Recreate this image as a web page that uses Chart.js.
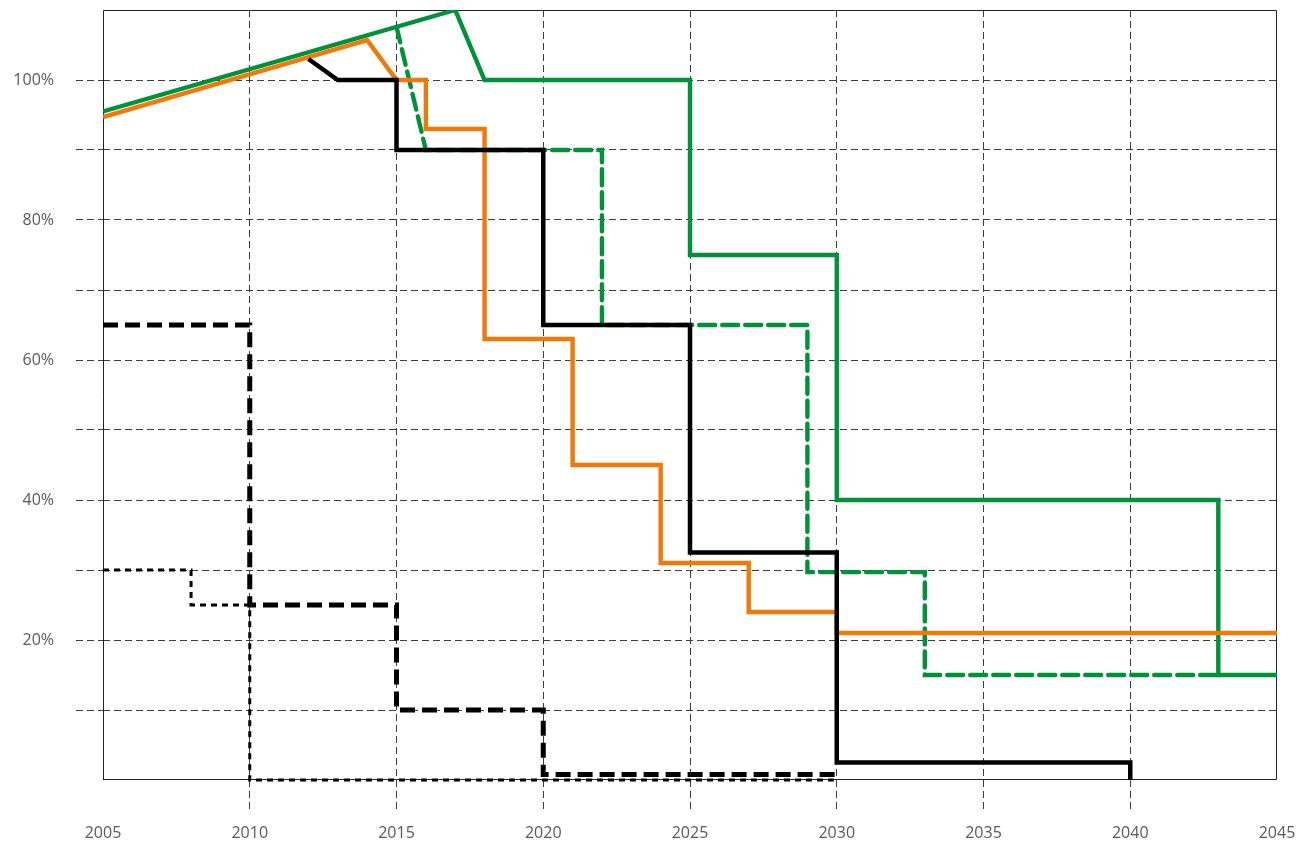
<!DOCTYPE html>
<html>
<head>
<meta charset="utf-8">
<script src="https://cdn.jsdelivr.net/npm/chart.js@4/dist/chart.umd.min.js"></script>
<style>
  html, body { margin: 0; padding: 0; background: #fff; }
  #wrap { width: 1297px; height: 842px; position: relative; }
</style>
</head>
<body>
<div id="wrap"><canvas id="c"></canvas></div>
<script>
// ---- Data (years on x, percent on y) ----
const xTicks = [2005, 2010, 2015, 2020, 2025, 2030, 2035, 2040, 2045];
const yTickLabels = [20, 40, 60, 80, 100];

const greenSolidX = [2005, 2017, 2018, 2025, 2025, 2030, 2030, 2043, 2043, 2045];
const greenSolidY = [95.5, 110, 100, 100, 75, 75, 40, 40, 15, 15];

const greenDashX = [2015, 2016, 2022, 2022, 2029, 2029, 2033, 2033, 2043];
const greenDashY = [107.6, 90, 90, 65, 65, 29.7, 29.7, 15, 15];

const blackSolidX = [2012, 2013, 2015, 2015, 2020, 2020, 2025, 2025, 2030, 2030, 2040, 2040];
const blackSolidY = [103, 100, 100, 90, 90, 65, 65, 32.5, 32.5, 2.5, 2.5, 0];

const orangeX = [2005, 2014, 2015, 2016, 2016, 2018, 2018, 2021, 2021, 2024, 2024, 2027, 2027, 2030, 2030, 2045];
const orangeY = [94.7, 105.7, 100, 100, 93, 93, 63, 63, 45, 45, 31, 31, 24, 24, 21, 21];

const blackDashX = [2005, 2010, 2010, 2015, 2015, 2020, 2020, 2030];
const blackDashY = [65, 65, 25, 25, 10, 10, 0.8, 0.8];

const blackDotX = [2005, 2008, 2008, 2010, 2010, 2030];
const blackDotY = [30, 30, 25, 25, 0, 0];

function pts(xs, ys) { return xs.map((x, i) => ({ x: x, y: ys[i] })); }

const GREEN = '#00923a';
const ORANGE = '#ee7a0c';
const BLACK = '#000000';

const frame = {
  id: 'frame',
  beforeDatasetsDraw(chart) {
    const { ctx, chartArea: a } = chart;
    ctx.save();
    ctx.setLineDash([]);
    ctx.strokeStyle = '#222';
    ctx.lineWidth = 1;
    ctx.beginPath();
    ctx.moveTo(a.left + 0.5, a.bottom);
    ctx.lineTo(a.left + 0.5, a.top + 0.5);
    ctx.lineTo(a.right - 0.5, a.top + 0.5);
    ctx.lineTo(a.right - 0.5, a.bottom - 0.5);
    ctx.lineTo(a.left, a.bottom - 0.5);
    ctx.stroke();
    ctx.restore();
  }
};

const gridCol = '#3c3c3c';
const labelFont = { family: 'Open Sans', size: 16, weight: 'normal' };
function zeroPad(s) { s.paddingTop = 0; s.paddingBottom = 0; s.paddingLeft = 0; s.paddingRight = 0; }

new Chart(document.getElementById('c'), {
  type: 'line',
  data: {
    datasets: [
      { data: pts(blackSolidX, blackSolidY), borderColor: BLACK, borderWidth: 4.5 },
      { data: pts(orangeX, orangeY), borderColor: ORANGE, borderWidth: 4.4 },
      { data: pts(greenDashX, greenDashY), borderColor: GREEN, borderWidth: 4.4, borderDash: [16, 7], borderCapStyle: 'round' },
      { data: pts(greenSolidX, greenSolidY), borderColor: GREEN, borderWidth: 4.4 },
      { data: pts(blackDashX, blackDashY), borderColor: BLACK, borderWidth: 5, borderDash: [15, 7] },
      { data: pts(blackDotX, blackDotY), borderColor: BLACK, borderWidth: 3, borderDash: [6, 5], clip: false }
    ]
  },
  options: {
    responsive: true,
    maintainAspectRatio: false,
    animation: false,
    layout: { autoPadding: false, padding: { top: 10, right: 20, left: 0, bottom: 0 } },
    elements: { point: { radius: 0, hoverRadius: 0 }, line: { tension: 0, fill: false } },
    plugins: { legend: { display: false }, tooltip: { enabled: false } },
    scales: {
      x: {
        type: 'linear',
        min: 2005, max: 2045,
        afterBuildTicks: (s) => { s.ticks = xTicks.map(v => ({ value: v })); },
        afterFit: (s) => { s.height = 62; zeroPad(s); },
        grid: {
          color: (c) => (c.tick && (c.tick.value === 2005 || c.tick.value === 2045)) ? 'rgba(0,0,0,0)' : gridCol,
          lineWidth: 1,
          tickLength: 32,
          tickBorderDash: [7, 4]
        },
        border: { display: false, dash: [7, 4] },
        ticks: {
          padding: 12,
          maxRotation: 0,
          autoSkip: false,
          color: '#5a5a5a',
          font: labelFont,
          callback: (v) => String(v)
        }
      },
      y: {
        type: 'linear',
        min: 0, max: 110,
        ticks: {
          stepSize: 10,
          padding: 22,
          color: '#5a5a5a',
          font: labelFont,
          callback: (v) => yTickLabels.includes(v) ? v + '%' : ''
        },
        afterFit: (s) => { s.width = 103; zeroPad(s); },
        grid: {
          color: (c) => (c.tick && (c.tick.value === 0 || c.tick.value === 110)) ? 'rgba(0,0,0,0)' : gridCol,
          lineWidth: 1,
          tickLength: 27,
          tickBorderDash: [7, 4]
        },
        border: { display: false, dash: [7, 4] }
      }
    }
  },
  plugins: [frame]
});
</script>
</body>
</html>
